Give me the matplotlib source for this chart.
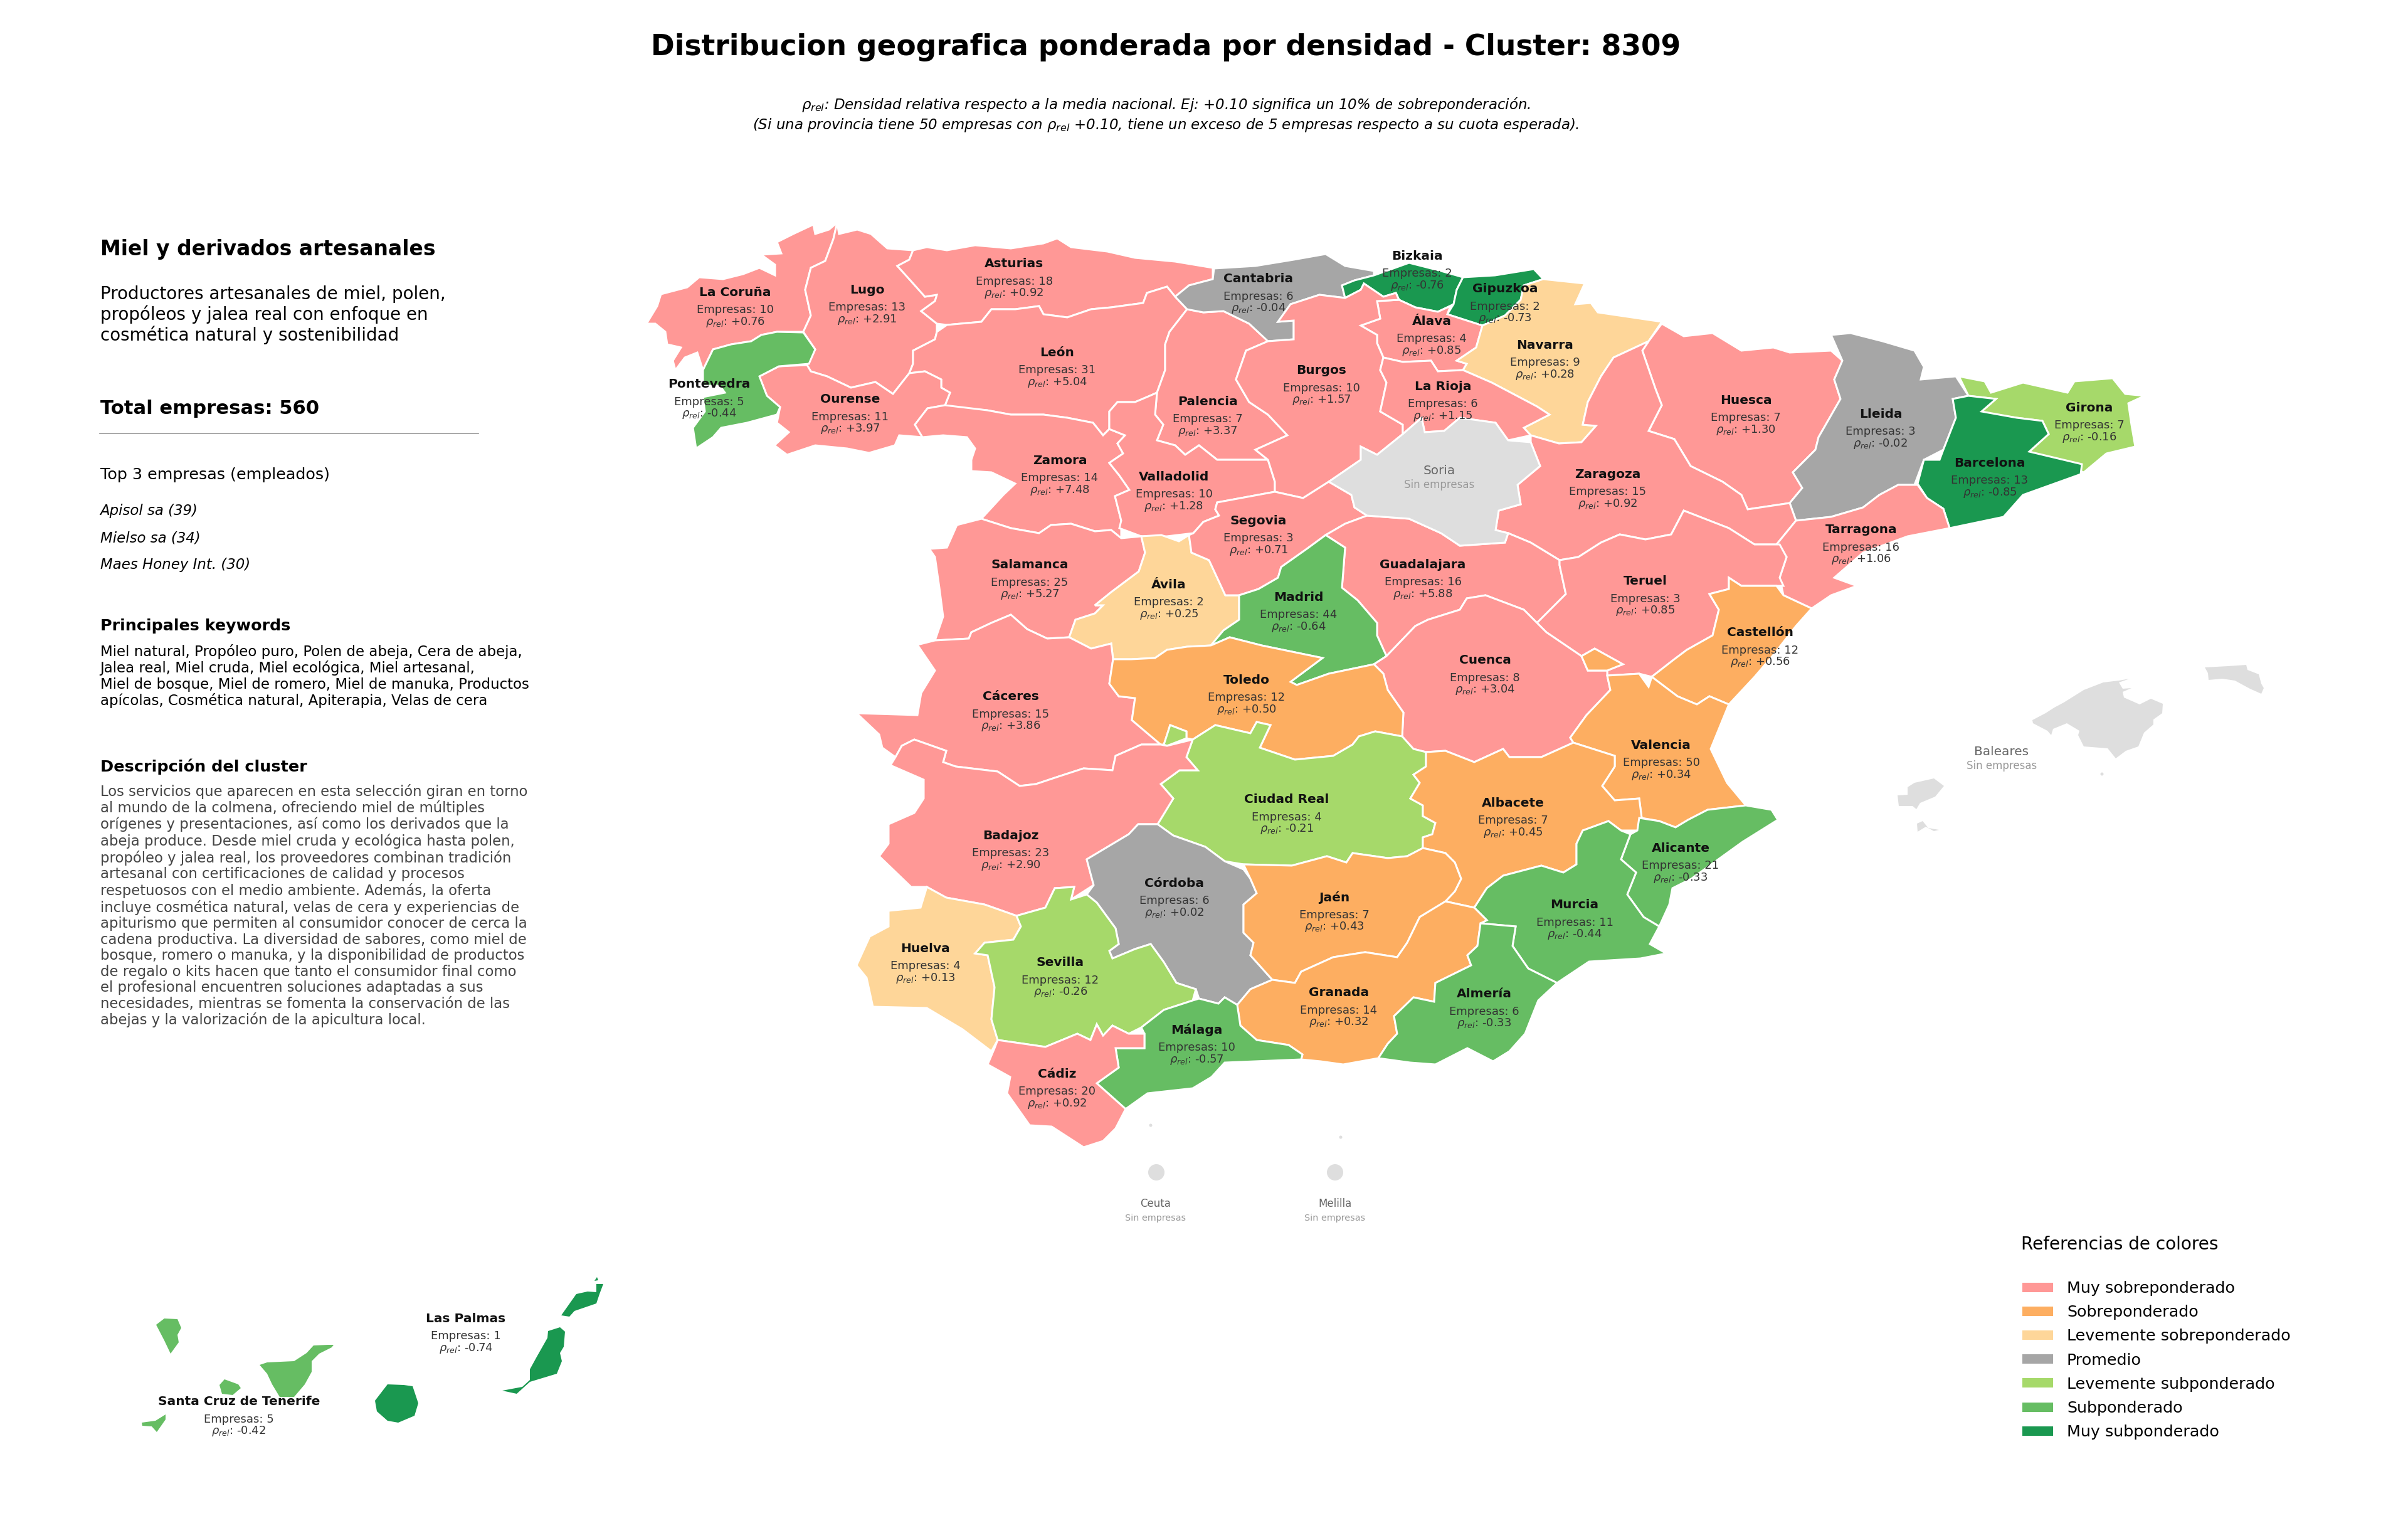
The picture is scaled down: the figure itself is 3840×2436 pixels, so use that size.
import matplotlib
matplotlib.use("Agg")
import matplotlib.pyplot as plt
from matplotlib.patches import Polygon, Rectangle, Circle

TITLE = "Distribucion geografica ponderada por densidad - Cluster: 8309"
SUBTITLE = ("$\\rho_{rel}$: Densidad relativa respecto a la media nacional. Ej: +0.10 significa un 10% de sobreponderación.\n"
            "(Si una provincia tiene 50 empresas con $\\rho_{rel}$ +0.10, tiene un exceso de 5 empresas respecto a su cuota esperada).")

CLUSTER_NAME = "Miel y derivados artesanales"
CLUSTER_SUB = "Productores artesanales de miel, polen,\npropóleos y jalea real con enfoque en\ncosmética natural y sostenibilidad"
TOTAL = "Total empresas: 560"
TOP3 = ["Apisol sa (39)", "Mielso sa (34)", "Maes Honey Int. (30)"]
KEYWORDS = ("Miel natural, Propóleo puro, Polen de abeja, Cera de abeja,\n"
            "Jalea real, Miel cruda, Miel ecológica, Miel artesanal,\n"
            "Miel de bosque, Miel de romero, Miel de manuka, Productos\n"
            "apícolas, Cosmética natural, Apiterapia, Velas de cera")
DESCRIPTION = ("Los servicios que aparecen en esta selección giran en torno\n"
               "al mundo de la colmena, ofreciendo miel de múltiples\n"
               "orígenes y presentaciones, así como los derivados que la\n"
               "abeja produce. Desde miel cruda y ecológica hasta polen,\n"
               "propóleo y jalea real, los proveedores combinan tradición\n"
               "artesanal con certificaciones de calidad y procesos\n"
               "respetuosos con el medio ambiente. Además, la oferta\n"
               "incluye cosmética natural, velas de cera y experiencias de\n"
               "apiturismo que permiten al consumidor conocer de cerca la\n"
               "cadena productiva. La diversidad de sabores, como miel de\n"
               "bosque, romero o manuka, y la disponibilidad de productos\n"
               "de regalo o kits hacen que tanto el consumidor final como\n"
               "el profesional encuentren soluciones adaptadas a sus\n"
               "necesidades, mientras se fomenta la conservación de las\n"
               "abejas y la valorización de la apicultura local.")

LEGEND_LABELS = ["Muy sobreponderado", "Sobreponderado", "Levemente sobreponderado", "Promedio",
                 "Levemente subponderado", "Subponderado", "Muy subponderado"]
LEGEND_COLORS = ["#ff9896", "#fdae61", "#fed699", "#a6a6a6", "#a6d96a", "#66bd63", "#1a9850"]
NO_DATA_COLOR = "#dedede"

PROVINCES = ["La Coruña", "Lugo", "Asturias", "León", "Ourense", "Pontevedra", "Palencia", "Zamora",
             "Valladolid", "Salamanca", "Ávila", "Cáceres", "Cantabria", "Bizkaia", "Gipuzkoa", "Álava",
             "Navarra", "Burgos", "La Rioja", "Huesca", "Lleida", "Girona", "Barcelona", "Zaragoza",
             "Tarragona", "Segovia", "Guadalajara", "Madrid", "Teruel", "Castellón", "Cuenca", "Toledo",
             "Valencia", "Ciudad Real", "Albacete", "Badajoz", "Córdoba", "Alicante", "Jaén", "Murcia",
             "Huelva", "Sevilla", "Granada", "Almería", "Málaga", "Cádiz", "Las Palmas", "Santa Cruz de Tenerife"]
EMPRESAS = [10, 13, 18, 31, 11, 5, 7, 14,
            10, 25, 2, 15, 6, 2, 2, 4,
            9, 10, 6, 7, 3, 7, 13, 15,
            16, 3, 16, 44, 3, 12, 8, 12,
            50, 4, 7, 23, 6, 21, 7, 11,
            4, 12, 14, 6, 10, 20, 1, 5]
RHO = [0.76, 2.91, 0.92, 5.04, 3.97, -0.44, 3.37, 7.48,
       1.28, 5.27, 0.25, 3.86, -0.04, -0.76, -0.73, 0.85,
       0.28, 1.57, 1.15, 1.30, -0.02, -0.16, -0.85, 0.92,
       1.06, 0.71, 5.88, -0.64, 0.85, 0.56, 3.04, 0.50,
       0.34, -0.21, 0.45, 2.90, 0.02, -0.33, 0.43, -0.44,
       0.13, -0.26, 0.32, -0.33, -0.57, 0.92, -0.74, -0.42]
LABEL_X = [1172, 1383, 1617, 1686, 1356, 1131, 1926, 1690,
           1872, 1642, 1864, 1612, 2007, 2260, 2400, 2283,
           2464, 2107, 2301, 2784, 2999, 3332, 3173, 2564,
           2968, 2007, 2269, 2071, 2624, 2807, 2368, 1988,
           2649, 2052, 2413, 1612, 1873, 2680, 2128, 2511,
           1476, 1691, 2135, 2367, 1908, 1686, 743, 381]
LABEL_Y = [464, 460, 419, 560, 635, 611, 638, 732,
           758, 899, 930, 1109, 443, 406, 459, 510,
           548, 589, 614, 636, 658, 648, 736, 754,
           843, 828, 898, 950, 925, 1007, 1051, 1082,
           1186, 1273, 1278, 1330, 1406, 1350, 1429, 1441,
           1510, 1533, 1581, 1583, 1640, 1710, 2100, 2233]

NO_DATA_NAMES = ["Soria", "Baleares", "Ceuta", "Melilla"]
NO_DATA_X = [2295, 3192, 1843, 2129]
NO_DATA_Y = [748, 1196, 1917, 1917]

# outlines, one list of rings per province
OUTLINES = {
    "La Coruña": [[(1031,516),(1048,488),(1054,469),(1096,458),(1115,442),(1153,445),(1185,437),(1211,427),(1236,439),(1236,422),(1214,406),(1246,404),(1239,386),(1265,373),(1297,358),(1300,373),(1322,366),(1335,355),(1329,381),(1316,416),(1293,427),(1284,462),(1293,503),(1281,529),(1239,529),(1214,534),(1198,544),(1166,549),(1137,557),(1121,590),(1112,562),(1092,570),(1077,590),(1073,575),(1086,554),(1064,549),(1061,529),(1045,516)]],
    "Pontevedra": [[(1281,530),(1300,557),(1290,580),(1242,584),(1211,600),(1223,631),(1244,649),(1239,661),(1191,674),(1150,682),(1137,697),(1110,715),(1105,682),(1124,656),(1121,633),(1156,626),(1148,615),(1121,615),(1121,590),(1137,557),(1166,549),(1198,544),(1214,534),(1239,529)]],
    "Ourense": [[(1211,600),(1242,584),(1287,582),(1293,592),(1319,600),(1357,618),(1396,609),(1424,628),(1450,595),(1475,592),(1501,605),(1501,618),(1515,626),(1507,646),(1479,651),(1459,677),(1471,697),(1434,694),(1427,710),(1386,722),(1351,715),(1300,710),(1255,725),(1235,710),(1258,689),(1239,674),(1244,649),(1223,631)]],
    "Lugo": [[(1335,355),(1338,373),(1367,366),(1389,373),(1415,396),(1456,399),(1450,414),(1431,424),(1450,445),(1475,473),(1494,470),(1491,480),(1469,496),(1494,516),(1494,529),(1491,541),(1456,559),(1456,580),(1450,595),(1424,628),(1396,609),(1357,618),(1319,600),(1293,592),(1287,582),(1300,557),(1281,529),(1293,503),(1284,462),(1293,427),(1316,416),(1329,381)]],
    "Asturias": [[(1456,399),(1478,394),(1510,399),(1555,391),(1612,396),(1664,388),(1686,380),(1708,394),(1766,401),(1810,411),(1874,417),(1934,427),(1934,445),(1896,455),(1874,473),(1861,457),(1829,467),(1823,483),(1772,490),(1740,493),(1702,506),(1664,501),(1657,488),(1619,493),(1581,493),(1565,513),(1510,518),(1494,516),(1469,496),(1491,480),(1494,470),(1475,473),(1450,445),(1431,424),(1450,414)]],
    "León": [[(1494,529),(1510,518),(1565,513),(1581,493),(1619,493),(1657,488),(1664,501),(1702,506),(1740,493),(1772,490),(1823,483),(1829,467),(1861,457),(1874,473),(1893,493),(1865,529),(1858,549),(1858,590),(1845,626),(1829,633),(1810,641),(1782,641),(1769,656),(1769,684),(1759,694),(1743,674),(1702,666),(1664,661),(1612,661),(1574,654),(1510,649),(1507,646),(1515,626),(1501,618),(1501,605),(1475,592),(1450,595),(1456,580),(1456,559),(1491,541)]],
    "Zamora": [[(1479,651),(1507,646),(1574,654),(1612,661),(1664,661),(1702,666),(1743,674),(1759,694),(1769,684),(1794,694),(1782,707),(1791,723),(1769,738),(1785,758),(1801,781),(1778,791),(1788,830),(1788,858),(1772,845),(1746,847),(1708,835),(1676,837),(1657,850),(1612,842),(1565,827),(1600,789),(1619,771),(1581,753),(1549,751),(1549,733),(1555,715),(1542,697),(1504,694),(1471,697),(1459,677)]],
    "Valladolid": [[(1769,684),(1769,656),(1782,641),(1810,641),(1829,633),(1845,626),(1842,661),(1855,677),(1845,702),(1874,710),(1890,725),(1912,710),(1941,733),(2022,733),(2033,768),(2033,784),(1941,801),(1938,812),(1944,822),(1919,832),(1903,850),(1861,855),(1820,855),(1785,842),(1788,830),(1778,791),(1801,781),(1785,758),(1769,738),(1791,723),(1782,707),(1794,694)]],
    "Palencia": [[(1893,493),(1919,498),(1951,496),(1992,516),(2022,544),(1987,559),(1971,605),(1992,641),(2022,661),(2053,694),(2002,717),(2022,733),(1941,733),(1912,710),(1890,725),(1874,710),(1845,702),(1855,677),(1842,661),(1845,626),(1858,590),(1858,549),(1865,529)]],
    "Cantabria": [[(1936,428),(2002,424),(2063,414),(2114,405),(2145,424),(2191,432),(2191,439),(2160,447),(2140,455),(2145,475),(2104,470),(2058,485),(2038,513),(2063,511),(2063,541),(2022,544),(1992,516),(1951,496),(1919,498),(1893,493),(1874,473),(1896,455),(1934,445)]],
    "Burgos": [[(1987,559),(2022,544),(2063,541),(2063,511),(2038,513),(2058,485),(2104,470),(2145,475),(2170,462),(2175,452),(2206,473),(2226,467),(2231,478),(2196,480),(2201,508),(2170,519),(2196,534),(2196,547),(2206,570),(2201,590),(2211,610),(2201,656),(2237,677),(2237,692),(2196,725),(2170,712),(2170,733),(2119,768),(2078,794),(2033,784),(2033,768),(2022,733),(2002,717),(2053,694),(2022,661),(1992,641),(1971,605)]],
    "Bizkaia": [[(2140,455),(2160,447),(2191,439),(2247,419),(2298,432),(2333,442),(2323,462),(2318,485),(2293,497),(2257,490),(2231,478),(2226,467),(2206,473),(2175,452),(2170,462),(2145,475)],
                [(2212,497),(2222,500),(2226,505),(2216,505)]],
    "Gipuzkoa": [[(2333,442),(2384,439),(2446,429),(2461,445),(2430,455),(2425,478),(2400,503),(2364,519),(2308,501),(2318,485),(2323,462)]],
    "Álava": [[(2196,480),(2231,478),(2257,490),(2293,497),(2313,488),(2308,501),(2364,519),(2354,554),(2323,575),(2339,580),(2333,590),(2293,592),(2282,575),(2237,577),(2206,570),(2196,547),(2196,534),(2170,519),(2201,508)]],
    "Navarra": [[(2461,445),(2527,452),(2512,485),(2537,483),(2548,498),(2650,513),(2629,544),(2573,570),(2553,600),(2532,641),(2524,677),(2545,679),(2522,705),(2486,707),(2441,694),(2430,682),(2471,661),(2451,648),(2379,610),(2333,590),(2339,580),(2323,575),(2354,554),(2364,519),(2400,503),(2425,478),(2430,455)]],
    "La Rioja": [[(2206,570),(2237,577),(2282,575),(2293,592),(2333,590),(2379,610),(2451,648),(2471,661),(2430,682),(2441,694),(2405,702),(2385,674),(2328,666),(2303,687),(2272,689),(2267,666),(2237,692),(2237,677),(2201,656),(2211,610),(2201,590)]],
    "Zaragoza": [[(2441,694),(2486,707),(2522,705),(2545,679),(2524,677),(2532,641),(2553,600),(2573,570),(2629,544),(2619,559),(2640,620),(2650,646),(2629,687),(2670,700),(2696,743),(2747,768),(2777,789),(2787,812),(2854,802),(2864,830),(2833,868),(2798,868),(2757,842),(2685,814),(2665,852),(2624,860),(2583,852),(2553,865),(2517,888),(2487,893),(2441,865),(2405,850),(2385,845),(2390,814),(2425,804),(2420,773),(2456,743),(2441,705)]],
    "Huesca": [[(2650,516),(2685,536),(2731,531),(2777,559),(2828,554),(2854,562),(2920,559),(2938,575),(2925,605),(2935,636),(2900,697),(2895,717),(2859,753),(2874,778),(2854,802),(2787,812),(2777,789),(2747,768),(2696,743),(2670,700),(2629,687),(2650,646),(2640,620),(2619,559),(2629,544)]],
    "Lleida": [[(2920,534),(2951,531),(3002,544),(3053,559),(3068,585),(3063,605),(3119,600),(3139,631),(3114,636),(3119,666),(3099,717),(3068,733),(3053,773),(3027,773),(2997,789),(2971,809),(2920,824),(2864,830),(2854,802),(2874,778),(2859,753),(2895,717),(2900,697),(2935,636),(2925,605),(2938,575)]],
    "Girona": [[(3124,600),(3165,608),(3175,626),(3226,610),(3297,626),(3308,608),(3369,603),(3389,628),(3420,631),(3394,643),(3399,677),(3405,712),(3359,723),(3323,753),(3236,720),(3267,692),(3257,671),(3216,666),(3180,661),(3160,656),(3183,636),(3139,631)]],
    "Barcelona": [[(3114,636),(3139,631),(3183,636),(3160,656),(3216,666),(3257,671),(3267,692),(3236,720),(3320,740),(3318,756),(3226,789),(3195,824),(3109,842),(3099,811),(3073,794),(3058,771),(3068,733),(3093,733),(3099,717),(3119,666)]],
    "Tarragona": [[(2864,830),(2920,824),(2971,809),(2997,789),(3027,773),(3058,773),(3073,794),(3099,811),(3109,842),(3042,855),(2971,881),(2925,921),(2961,934),(2920,949),(2889,970),(2844,949),(2838,921),(2849,888),(2833,868)]],
    "Segovia": [[(2033,784),(2078,794),(2119,768),(2155,789),(2160,809),(2180,822),(2145,835),(2114,853),(2084,875),(2043,904),(2038,921),(2007,939),(1976,949),(1954,949),(1928,893),(1900,881),(1896,853),(1903,850),(1919,832),(1944,822),(1938,812),(1941,801)]],
    "Ávila": [[(1820,855),(1852,853),(1880,863),(1896,853),(1900,881),(1928,893),(1954,949),(1976,949),(1976,988),(1951,1005),(1931,1029),(1893,1031),(1861,1036),(1842,1049),(1804,1051),(1775,1051),(1772,1026),(1740,1034),(1705,1016),(1715,988),(1746,978),(1759,965),(1746,965),(1772,944),(1816,911),(1826,881)]],
    "Salamanca": [[(1565,827),(1612,842),(1657,850),(1676,837),(1708,835),(1746,847),(1772,845),(1788,858),(1820,855),(1826,881),(1816,911),(1772,944),(1746,965),(1759,965),(1746,978),(1715,988),(1705,1016),(1670,1018),(1638,1003),(1612,980),(1581,993),(1549,1008),(1545,1018),(1491,1021),(1504,983),(1498,937),(1491,888),(1482,875),(1510,873),(1526,837)]],
    "Cáceres": [[(1463,1028),(1491,1021),(1545,1018),(1549,1008),(1581,993),(1612,980),(1638,1003),(1670,1018),(1705,1016),(1740,1034),(1772,1026),(1775,1051),(1769,1090),(1784,1110),(1810,1113),(1805,1148),(1851,1187),(1820,1187),(1779,1205),(1774,1228),(1728,1225),(1688,1238),(1652,1250),(1626,1253),(1591,1230),(1524,1222),(1504,1215),(1509,1197),(1458,1179),(1438,1189),(1428,1207),(1407,1192),(1402,1171),(1366,1137),(1463,1140),(1469,1105),(1491,1069)]],
    "Badajoz": [[(1428,1207),(1420,1220),(1473,1243),(1473,1273),(1458,1296),(1417,1314),(1417,1345),(1402,1365),(1453,1414),(1478,1414),(1509,1431),(1570,1442),(1621,1460),(1667,1447),(1682,1416),(1713,1414),(1708,1434),(1744,1411),(1733,1370),(1800,1330),(1815,1314),(1846,1314),(1871,1273),(1851,1250),(1881,1228),(1910,1228),(1892,1207),(1902,1179),(1861,1189),(1851,1187),(1820,1187),(1779,1205),(1774,1228),(1728,1225),(1688,1238),(1652,1250),(1626,1253),(1591,1230),(1524,1222),(1504,1215),(1509,1197),(1458,1179),(1438,1189)]],
    "Toledo": [[(1775,1051),(1804,1051),(1842,1049),(1861,1036),(1893,1031),(1931,1029),(1961,1016),(2012,1029),(2109,1049),(2058,1087),(2068,1092),(2119,1074),(2191,1059),(2206,1074),(2213,1100),(2238,1136),(2236,1174),(2193,1166),(2167,1174),(2157,1187),(2126,1205),(2065,1211),(2009,1192),(2026,1156),(2004,1151),(1994,1169),(1938,1156),(1902,1179),(1892,1177),(1892,1166),(1866,1156),(1856,1187),(1851,1187),(1805,1148),(1810,1113),(1784,1110),(1769,1090)]],
    "Madrid": [[(2114,853),(2145,873),(2140,937),(2165,957),(2196,993),(2196,1013),(2211,1046),(2191,1059),(2119,1074),(2068,1092),(2058,1087),(2109,1049),(2012,1029),(1961,1016),(1931,1029),(1951,1005),(1976,988),(1976,949),(2007,939),(2038,921),(2043,904),(2084,875)]],
    "Guadalajara": [[(2180,822),(2247,827),(2298,850),(2328,870),(2400,865),(2405,850),(2441,865),(2487,893),(2487,901),(2497,947),(2451,993),(2430,972),(2369,949),(2339,954),(2328,972),(2277,988),(2257,998),(2211,1046),(2196,1013),(2196,993),(2165,957),(2140,937),(2145,873),(2114,853),(2145,835)]],
    "Cuenca": [[(2191,1059),(2211,1046),(2257,998),(2277,988),(2328,972),(2339,954),(2369,949),(2430,972),(2451,993),(2466,1008),(2522,1046),(2532,1069),(2563,1069),(2563,1077),(2568,1100),(2530,1140),(2504,1176),(2509,1184),(2458,1207),(2407,1207),(2397,1194),(2351,1215),(2305,1197),(2274,1199),(2254,1194),(2236,1174),(2238,1136),(2213,1100),(2206,1074)]],
    "Teruel": [[(2487,893),(2517,888),(2553,865),(2583,852),(2624,860),(2665,852),(2685,814),(2757,842),(2798,868),(2838,868),(2849,888),(2838,921),(2844,934),(2833,934),(2777,934),(2757,921),(2757,939),(2726,947),(2741,972),(2731,1013),(2690,1036),(2670,1051),(2634,1079),(2614,1074),(2563,1077),(2563,1069),(2588,1059),(2543,1034),(2522,1046),(2466,1008),(2451,993),(2497,947),(2487,901)]],
    "Castellón": [[(2757,921),(2777,934),(2833,934),(2844,949),(2889,970),(2864,998),(2828,1044),(2798,1079),(2757,1123),(2726,1110),(2706,1123),(2675,1110),(2634,1079),(2670,1051),(2690,1036),(2731,1013),(2741,972),(2726,947),(2757,939)]],
    "Valencia": [[(2563,1077),(2614,1074),(2629,1095),(2634,1079),(2675,1110),(2706,1123),(2726,1110),(2757,1123),(2728,1194),(2754,1248),(2784,1284),(2723,1291),(2692,1307),(2672,1319),(2646,1309),(2618,1304),(2614,1273),(2575,1276),(2555,1253),(2575,1222),(2575,1205),(2509,1184),(2504,1176),(2530,1140),(2568,1100)],
                 [(2522,1046),(2543,1034),(2588,1059),(2563,1069),(2532,1069)]],
    "Ciudad Real": [[(1902,1179),(1938,1156),(1994,1169),(2004,1151),(2026,1156),(2009,1192),(2065,1211),(2126,1205),(2157,1187),(2167,1174),(2193,1166),(2236,1174),(2254,1194),(2274,1199),(2274,1222),(2254,1235),(2264,1248),(2249,1273),(2269,1284),(2269,1301),(2289,1312),(2284,1330),(2269,1335),(2269,1352),(2244,1365),(2213,1368),(2157,1360),(2147,1375),(2116,1365),(2060,1380),(1983,1378),(1953,1373),(1922,1350),(1871,1332),(1846,1314),(1871,1273),(1851,1250),(1881,1228),(1910,1228),(1892,1207)],
                    [(1856,1187),(1866,1156),(1892,1166),(1892,1177),(1861,1189)]],
    "Albacete": [[(2274,1199),(2305,1197),(2351,1215),(2397,1194),(2407,1207),(2458,1207),(2509,1184),(2575,1205),(2575,1222),(2555,1253),(2575,1276),(2614,1273),(2618,1304),(2611,1324),(2585,1324),(2565,1309),(2524,1324),(2514,1345),(2514,1378),(2493,1391),(2458,1380),(2397,1396),(2371,1416),(2351,1447),(2305,1437),(2320,1421),(2330,1401),(2320,1375),(2305,1360),(2269,1352),(2269,1335),(2284,1330),(2289,1312),(2269,1301),(2269,1284),(2249,1273),(2264,1248),(2254,1235),(2274,1222)]],
    "Córdoba": [[(1815,1314),(1846,1314),(1871,1332),(1922,1350),(1953,1373),(1983,1386),(1994,1401),(2004,1424),(1983,1442),(1983,1487),(1999,1503),(1994,1523),(2029,1562),(1994,1577),(1973,1602),(1953,1590),(1943,1600),(1912,1592),(1907,1577),(1876,1567),(1856,1534),(1835,1505),(1810,1513),(1774,1528),(1769,1516),(1784,1505),(1779,1480),(1749,1439),(1733,1426),(1744,1411),(1733,1370),(1800,1330)]],
    "Sevilla": [[(1621,1460),(1667,1447),(1682,1416),(1713,1414),(1708,1434),(1733,1426),(1749,1439),(1779,1480),(1784,1505),(1769,1516),(1774,1528),(1810,1513),(1835,1505),(1856,1534),(1876,1567),(1907,1577),(1902,1595),(1856,1610),(1820,1638),(1800,1648),(1774,1635),(1759,1651),(1749,1633),(1739,1658),(1718,1648),(1667,1669),(1591,1658),(1581,1625),(1586,1574),(1575,1523),(1555,1520),(1570,1503),(1616,1498),(1628,1477)]],
    "Huelva": [[(1478,1414),(1509,1431),(1570,1442),(1621,1460),(1628,1477),(1616,1498),(1570,1503),(1555,1520),(1575,1523),(1586,1574),(1581,1625),(1591,1658),(1581,1676),(1535,1641),(1478,1607),(1392,1605),(1382,1559),(1366,1539),(1387,1493),(1417,1477),(1417,1452),(1468,1447)]],
    "Cádiz": [[(1591,1658),(1667,1669),(1718,1648),(1739,1658),(1749,1633),(1759,1651),(1774,1635),(1800,1648),(1825,1648),(1825,1671),(1779,1671),(1784,1702),(1749,1727),(1795,1768),(1779,1799),(1759,1819),(1728,1829),(1677,1796),(1642,1794),(1606,1743),(1611,1717),(1575,1697),(1586,1671)]],
    "Málaga": [[(1820,1638),(1856,1610),(1902,1595),(1912,1592),(1943,1600),(1953,1590),(1973,1602),(1978,1635),(2004,1658),(2055,1666),(2077,1681),(2075,1689),(1953,1694),(1932,1717),(1902,1735),(1830,1743),(1795,1768),(1749,1727),(1784,1702),(1779,1671),(1825,1671),(1825,1648)]],
    "Granada": [[(2029,1562),(2065,1567),(2075,1549),(2126,1526),(2177,1518),(2228,1526),(2244,1503),(2264,1462),(2305,1437),(2351,1447),(2371,1467),(2361,1472),(2356,1508),(2340,1523),(2346,1539),(2289,1567),(2287,1597),(2254,1590),(2223,1620),(2228,1648),(2213,1664),(2198,1687),(2142,1697),(2106,1692),(2075,1689),(2077,1681),(2055,1666),(2004,1658),(1978,1635),(1973,1602),(1994,1577)]],
    "Jaén": [[(1983,1378),(2060,1380),(2116,1365),(2147,1375),(2157,1360),(2213,1368),(2244,1365),(2269,1352),(2305,1360),(2320,1375),(2330,1401),(2320,1421),(2305,1437),(2264,1462),(2244,1503),(2228,1526),(2177,1518),(2126,1526),(2075,1549),(2065,1567),(2029,1562),(1994,1523),(1999,1503),(1983,1487),(1983,1442),(2004,1424),(1994,1401)]],
    "Alicante": [[(2614,1304),(2646,1309),(2672,1319),(2692,1307),(2723,1291),(2784,1284),(2825,1291),(2835,1307),(2779,1342),(2697,1401),(2667,1416),(2662,1442),(2646,1477),(2621,1462),(2595,1426),(2609,1391),(2585,1370),(2600,1330),(2611,1324)]],
    "Murcia": [[(2351,1447),(2371,1416),(2397,1396),(2458,1380),(2493,1391),(2514,1378),(2514,1345),(2524,1324),(2565,1309),(2585,1324),(2600,1330),(2585,1370),(2609,1391),(2595,1426),(2621,1462),(2646,1477),(2631,1505),(2657,1520),(2616,1528),(2534,1533),(2483,1567),(2437,1544),(2412,1508),(2417,1477),(2361,1472),(2371,1467)]],
    "Almería": [[(2361,1472),(2417,1477),(2412,1508),(2437,1544),(2483,1567),(2453,1595),(2432,1648),(2407,1676),(2381,1692),(2340,1671),(2289,1697),(2249,1694),(2198,1687),(2213,1664),(2228,1648),(2223,1620),(2254,1590),(2287,1597),(2289,1567),(2346,1539),(2340,1523),(2356,1508)]],
    "Las Palmas": [[(598,2233),(618,2207),(644,2208),(658,2210),(667,2237),(661,2257),(635,2268),(618,2265),(601,2250)],
                   [(874,2122),(893,2116),(901,2123),(899,2147),(893,2157),(896,2170),(888,2190),(845,2203),(824,2222),(801,2217),(833,2211),(845,2200),(845,2183),(856,2163),(873,2133)],
                   [(895,2097),(907,2080),(919,2063),(937,2059),(951,2060),(951,2047),(962,2047),(956,2063),(951,2078),(916,2090),(908,2099)],
                   [(948,2042),(952,2036),(954,2041)]],
    "Santa Cruz de Tenerife": [[(249,2112),(262,2102),(283,2103),(289,2117),(283,2128),(285,2140),(272,2158),(262,2137)],
                               [(414,2176),(426,2172),(469,2170),(489,2157),(500,2145),(523,2144),(532,2144),(529,2148),(509,2158),(497,2170),(497,2187),(486,2207),(469,2227),(446,2227),(434,2207),(426,2190)],
                               [(350,2208),(358,2199),(380,2207),(384,2213),(371,2224),(354,2222)],
                               [(226,2268),(248,2265),(264,2255),(264,2263),(250,2283),(242,2274),(227,2273)]],
}
SORIA_OUTLINE = [(2119,768),(2170,733),(2170,712),(2196,725),(2237,692),(2267,666),(2272,689),(2303,687),(2328,666),(2385,674),(2405,702),(2441,705),(2456,743),(2420,773),(2425,804),(2390,814),(2385,845),(2405,850),(2400,865),(2328,870),(2298,850),(2247,827),(2180,822),(2160,809),(2155,789)]
BALEARES_OUTLINES = [
    [(3241,1148),(3262,1137),(3276,1128),(3291,1120),(3307,1110),(3323,1100),(3354,1088),(3379,1085),(3396,1082),(3379,1088),(3385,1098),(3399,1097),(3385,1103),(3387,1112),(3412,1123),(3430,1114),(3449,1122),(3448,1137),(3434,1147),(3434,1155),(3419,1168),(3410,1190),(3390,1197),(3374,1209),(3361,1193),(3323,1190),(3314,1172),(3316,1165),(3296,1153),(3274,1162),(3271,1172),(3265,1165),(3242,1153)],
    [(3516,1064),(3553,1062),(3582,1060),(3584,1068),(3602,1075),(3606,1090),(3610,1097),(3606,1106),(3588,1098),(3564,1085),(3544,1082),(3522,1084),(3521,1073)],
    [(3026,1268),(3042,1267),(3042,1255),(3053,1248),(3084,1241),(3100,1253),(3086,1270),(3062,1280),(3056,1290),(3050,1285),(3028,1285)],
    [(3057,1313),(3066,1309),(3075,1320),(3092,1323),(3084,1325),(3071,1318),(3058,1326)],
]
CANARIES = ["Las Palmas", "Santa Cruz de Tenerife"]


def rho_color(rho):
    # thresholds guessed from which value gets which colour
    if rho > 0.7:
        return LEGEND_COLORS[0]
    if rho > 0.3:
        return LEGEND_COLORS[1]
    if rho > 0.1:
        return LEGEND_COLORS[2]
    if rho >= -0.1:
        return LEGEND_COLORS[3]
    if rho >= -0.3:
        return LEGEND_COLORS[4]
    if rho >= -0.7:
        return LEGEND_COLORS[5]
    return LEGEND_COLORS[6]


fig = plt.figure(figsize=(16, 10.15), dpi=240, facecolor="white")
ax = fig.add_axes([0, 0, 1, 1])
ax.set_xlim(0, 3840)
ax.set_ylim(2436, 0)
ax.axis("off")

# map
for i, name in enumerate(PROVINCES):
    edge = "none" if name in CANARIES else "white"
    for ring in OUTLINES[name]:
        ax.add_patch(Polygon(ring, closed=True, facecolor=rho_color(RHO[i]), edgecolor=edge, linewidth=0.9, zorder=2))
ax.add_patch(Polygon(SORIA_OUTLINE, closed=True, facecolor=NO_DATA_COLOR, edgecolor="white", linewidth=0.9, zorder=2))
for ring in BALEARES_OUTLINES:
    ax.add_patch(Polygon(ring, closed=True, facecolor=NO_DATA_COLOR, edgecolor="none", zorder=2))
ax.add_patch(Circle((1844, 1869), 13, facecolor=NO_DATA_COLOR, edgecolor="none", zorder=2))
ax.add_patch(Circle((2129, 1869), 13, facecolor=NO_DATA_COLOR, edgecolor="none", zorder=2))
# specks: Cabrera, Alboran and the rocks near Ceuta
for speck in [(3352, 1234), (2138, 1813), (1835, 1794)]:
    ax.add_patch(Circle(speck, 2.5, facecolor=NO_DATA_COLOR, edgecolor="none", zorder=2))

# province labels
for i, name in enumerate(PROVINCES):
    x, y = LABEL_X[i], LABEL_Y[i] + 2
    ax.text(x, y, name, ha="center", va="center", fontsize=6.05, fontweight="bold", color="#111111", zorder=5)
    ax.text(x, y + 28, f"Empresas: {EMPRESAS[i]}", ha="center", va="center", fontsize=5.4, color="#333333", zorder=5)
    ax.text(x, y + 47, f"$\\rho_{{rel}}$: {RHO[i]:+.2f}", ha="center", va="center", fontsize=5.4, color="#333333", zorder=5)

for i, name in enumerate(NO_DATA_NAMES):
    small = name in ("Ceuta", "Melilla")
    ax.text(NO_DATA_X[i], NO_DATA_Y[i] + 2, name, ha="center", va="center", fontsize=5 if small else 6, color="#666666", zorder=5)
    ax.text(NO_DATA_X[i], NO_DATA_Y[i] + 25, "Sin empresas", ha="center", va="center", fontsize=4.3 if small else 5, color="#999999", zorder=5)

# title block
ax.text(1859, 75, TITLE, ha="center", va="center", fontsize=13.66, fontweight="bold", color="black")
ax.text(1859, 183, SUBTITLE, ha="center", va="center", fontsize=6.85, style="italic", color="black", linespacing=1.27)

# left panel
LEFT = 159.5
ax.text(LEFT, 398, CLUSTER_NAME, ha="left", va="center", fontsize=9.9, fontweight="bold")
ax.text(LEFT, 502, CLUSTER_SUB, ha="left", va="center", fontsize=8.33, linespacing=1.17)
ax.text(LEFT, 652, TOTAL, ha="left", va="center", fontsize=9.2, fontweight="bold")
ax.plot([159, 763], [691, 691], color="#999999", linewidth=0.5)
ax.text(LEFT, 757, "Top 3 empresas (empleados)", ha="left", va="center", fontsize=7.6)
for label, y in zip(TOP3, [814, 858, 901]):
    ax.text(LEFT, y, label, ha="left", va="center", fontsize=6.85, style="italic")
ax.text(LEFT, 998, "Principales keywords", ha="left", va="center", fontsize=7.62, fontweight="bold")
ax.text(LEFT, 1078, KEYWORDS, ha="left", va="center", fontsize=6.85, linespacing=1.14)
ax.text(LEFT, 1222, "Descripción del cluster", ha="left", va="center", fontsize=7.65, fontweight="bold")
ax.text(LEFT, 1444, DESCRIPTION, ha="left", va="center", fontsize=6.83, color="#444444", linespacing=1.14)

# colour key
ax.text(3223, 1984, "Referencias de colores", ha="left", va="center", fontsize=8.37)
for i, (label, color) in enumerate(zip(LEGEND_LABELS, LEGEND_COLORS)):
    y = 2052 + i * 38.2
    ax.add_patch(Rectangle((3225, y - 7.5), 49, 15, facecolor=color, edgecolor="none"))
    ax.text(3296, y + 2, label, ha="left", va="center", fontsize=7.63)

fig.savefig("out.png", dpi=240, facecolor="white")
